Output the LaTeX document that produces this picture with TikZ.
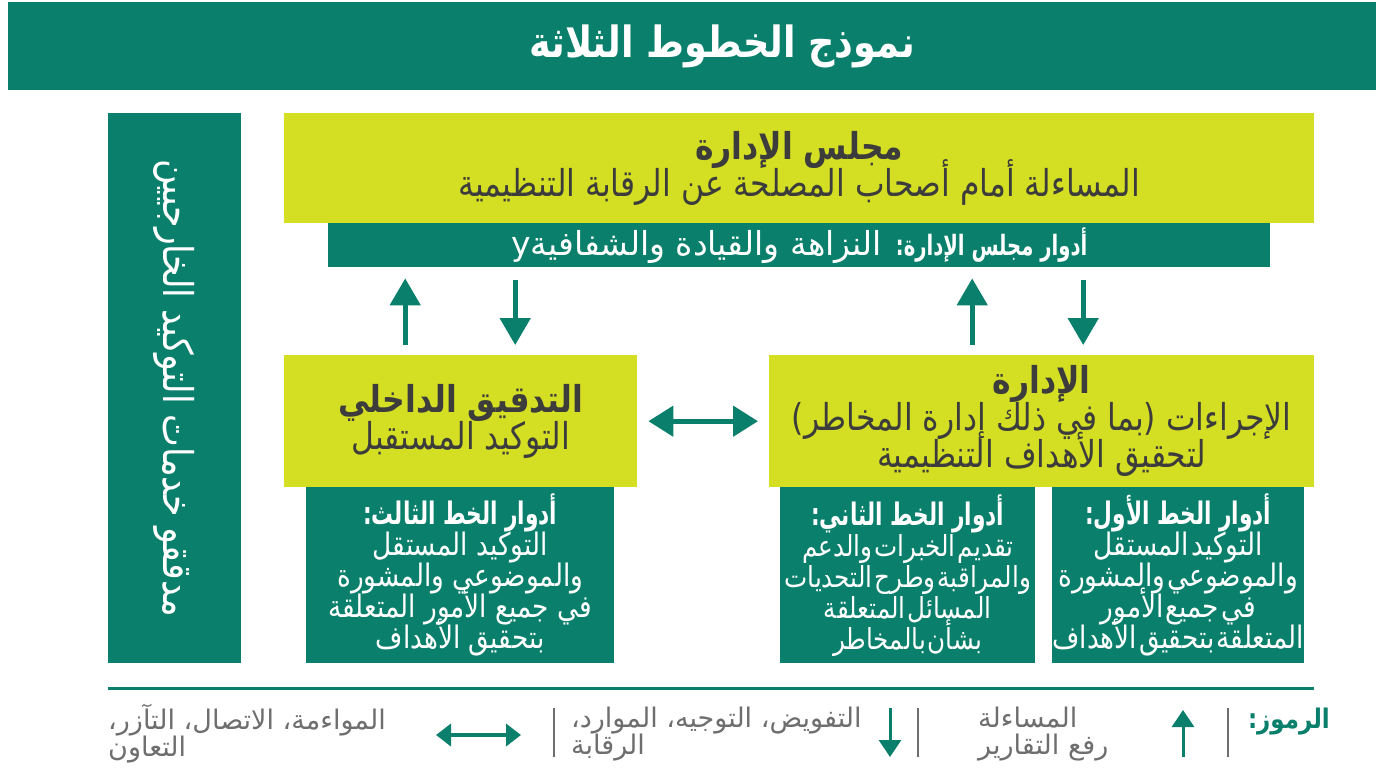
\documentclass[tikz,border=0pt]{standalone}
\usepackage{fontspec}
\usetikzlibrary{arrows.meta,positioning}
\TeXXeTstate=1
\lineskiplimit=-50pt
\newfontfamily\arabicfont[Script=Arabic,FakeStretch=0.85]{DejaVu Sans}
\newfontfamily\arabicwide[Script=Arabic]{DejaVu Sans}
\newfontfamily\arabicnarrow[Script=Arabic,FakeStretch=0.7]{DejaVu Sans}
\definecolor{verde}{HTML}{0A806C}
\definecolor{giallo}{HTML}{D4DE23}
\definecolor{testo}{HTML}{3C3C3C}
\definecolor{grigio}{HTML}{6E6E6E}
\newcommand{\ar}[1]{\beginR #1\endR}
\newcommand{\tit}[1]{{\arabicnarrow\bfseries\fontsize{31}{31}\selectfont\spaceskip=0pt\ar{#1}}}
\newcommand{\stretto}[1]{\arabicfont\fontsize{#1}{31}\selectfont\spaceskip=2pt\relax}
\tikzset{
  boxgiallo/.style={fill=giallo, anchor=north west, inner sep=0pt, text=testo, align=center,
    font=\arabicfont\fontsize{37}{37}\selectfont},
  boxverde/.style={fill=verde, anchor=north west, inner sep=0pt, text=white, align=center,
    font=\arabicfont\fontsize{31}{31}\selectfont},
  legenda/.style={anchor=west, inner sep=0pt, text=grigio, align=left,
    font=\arabicwide\fontsize{27}{27}\selectfont},
  freccia/.style={verde, line width=5pt, shorten <=10pt, shorten >=11pt, -{Triangle[width=30pt,length=27pt]}},
  frecciagiu/.style={freccia, shorten <=13pt, shorten >=10pt},
  frecciadoppia/.style={verde, line width=5pt, {Triangle[width=30pt,length=25pt]}-{Triangle[width=30pt,length=25pt]}},
  freccialeg/.style={verde, line width=3pt, -{Triangle[width=22pt,length=17pt]}},
  separatore/.style={grigio, line width=2pt}
}
\begin{document}
\begin{tikzpicture}[x=1pt,y=-1pt]
\useasboundingbox (0,0) rectangle (1384,768);

% barra del titolo
\node[boxverde, minimum width=1368pt, minimum height=88pt] (barra) at (8,2) {};
\node[text=white, font=\arabicfont\bfseries\fontsize{43}{46}\selectfont] (titolo) at (722,46) {\ar{نموذج الخطوط الثلاثة}};

% colonna esterna
\node[boxverde, anchor=center, rotate=-90, minimum width=550pt, minimum height=133pt,
  font=\arabicfont\fontsize{41}{44}\selectfont] (esterni) at (174.5,388) {\ar{مدققو خدمات التوكيد الخارجيين}};

% consiglio
\node[boxgiallo, minimum width=1030pt, minimum height=110pt] (consiglio) at (284,113)
  {{\bfseries\ar{مجلس الإدارة}}\\\ar{المساءلة أمام أصحاب المصلحة عن الرقابة التنظيمية}};
\node[boxverde, minimum width=942pt, minimum height=44pt, font=\arabicwide\fontsize{33}{36}\selectfont] (ruoli) at (328,223)
  {\ar{{\arabicnarrow\bfseries\fontsize{28}{36}\selectfont أدوار مجلس الإدارة:} النزاهة والقيادة والشفافيةy}};

% audit interno e direzione
\node[boxgiallo, minimum width=353pt, minimum height=132pt] (audit) at (284,355)
  {{\bfseries\ar{التدقيق الداخلي}}\\\ar{التوكيد المستقبل}};
\node[boxgiallo, minimum width=545pt, minimum height=132pt] (direzione) at (769,355)
  {{\bfseries\ar{الإدارة}}\\\ar{الإجراءات (بما في ذلك إدارة المخاطر)}\\\ar{لتحقيق الأهداف التنظيمية}};

% ruoli delle tre linee
\node[boxverde, minimum width=308pt, minimum height=176pt] (terza) at (306,487)
  {\tit{أدوار الخط الثالث:}\\\ar{التوكيد المستقل}\\\ar{والموضوعي والمشورة}\\\ar{في جميع الأمور المتعلقة}\\\ar{بتحقيق الأهداف}};
\node[boxverde, font=\stretto{29}, minimum width=255pt, minimum height=176pt] (seconda) at (780,487)
  {\tit{أدوار الخط الثاني:}\\\ar{تقديم الخبرات والدعم}\\\ar{والمراقبة وطرح التحديات}\\\ar{المسائل المتعلقة}\\\ar{بشأن بالمخاطر}};
\node[boxverde, font=\stretto{31}, minimum width=252pt, minimum height=176pt] (prima) at (1052,487)
  {\tit{أدوار الخط الأول:}\\\ar{التوكيد المستقل}\\\ar{والموضوعي والمشورة}\\\ar{في جميع الأمور}\\\ar{المتعلقة بتحقيق الأهداف}};

% frecce verticali
\coordinate (p1) at ([xshift=-55.5pt]audit.north);
\coordinate (p2) at ([xshift=54.5pt]audit.north);
\coordinate (p3) at ([xshift=-69.5pt]direzione.north);
\coordinate (p4) at ([xshift=41.5pt]direzione.north);
\draw[freccia] (p1) -- (p1 |- ruoli.south);
\draw[frecciagiu] (p2 |- ruoli.south) -- (p2);
\draw[freccia] (p3) -- (p3 |- ruoli.south);
\draw[frecciagiu] (p4 |- ruoli.south) -- (p4);
% freccia doppia
\draw[frecciadoppia] ([xshift=11pt]audit.east) -- ([xshift=-11pt]direzione.west);

% legenda
\draw[verde, line width=3pt] (108,688) -- (1314,688);
\foreach \x in {554,918,1228} \draw[separatore] (\x,708) -- (\x,757);
\node[anchor=east, inner sep=0pt, text=verde, font=\arabicfont\bfseries\fontsize{27}{30}\selectfont] (simboli) at (1330,722) {\ar{الرموز:}};
\coordinate (su0) at (1183,757); \coordinate (su1) at (1183,710);
\draw[freccialeg] (su0) -- (su1);
\node[legenda] (rendiconto) at (978,734) {\ar{المساءلة}\\\ar{رفع التقارير}};
\coordinate (giu0) at (890,708); \coordinate (giu1) at (890,757);
\draw[freccialeg] (giu0) -- (giu1);
\node[legenda] (delega) at (571,734) {\ar{التفويض، التوجيه، الموارد،}\\\ar{الرقابة}};
\coordinate (dx0) at (436,735); \coordinate (dx1) at (521,735);
\draw[freccialeg, {Triangle[width=22pt,length=15pt]}-{Triangle[width=22pt,length=15pt]}, line width=4pt] (dx0) -- (dx1);
\node[legenda] (coordinamento) at (108,734) {\ar{المواءمة، الاتصال، التآزر،}\\\ar{التعاون}};
\end{tikzpicture}
\end{document}
